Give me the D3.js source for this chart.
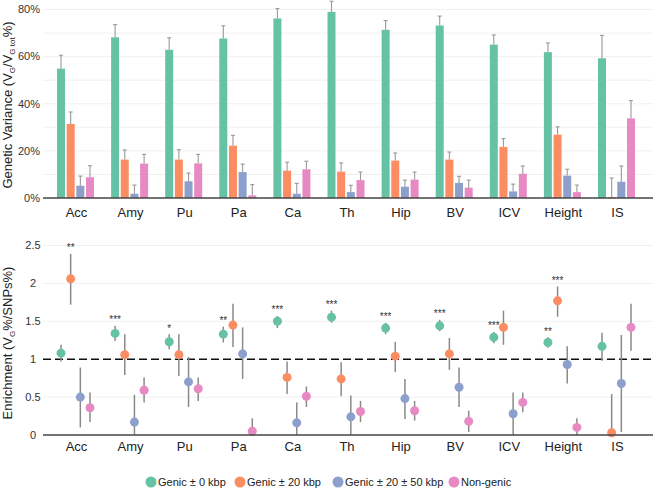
<!DOCTYPE html>
<meta charset="utf-8">
<script src="https://d3js.org/d3.v7.min.js"></script>
<style>
  body { margin: 0; background: #fff; }
  text { font-family: Helvetica, Arial, "Liberation Sans", sans-serif; }
</style>
<div id="my_dataviz"></div>
<script>

// categories and series
var categories = ["Acc", "Amy", "Pu", "Pa", "Ca", "Th", "Hip", "BV", "ICV", "Height", "IS"];
var series = ["Genic \u00b1 0 kbp", "Genic \u00b1 20 kbp", "Genic \u00b1 20 \u00b1 50 kbp", "Non-genic"];
var colours = ["#66c2a5", "#fc8d62", "#8da0cb", "#e78ac3"];

// genetic variance (%), value and standard error
var var0   = [54.9, 68.2, 62.9, 67.7, 76.2, 79.0, 71.4, 73.2, 65.1, 61.9, 59.3];
var var0Se = [5.7, 5.4, 5.1, 5.4, 4.2, 4.5, 3.9, 4.0, 4.1, 3.9, 9.7];
var var20   = [31.4, 16.3, 16.3, 22.2, 11.6, 11.2, 15.9, 16.3, 21.7, 26.9, 0.4];
var var20Se = [5.1, 4.1, 4.2, 4.4, 3.6, 3.7, 3.2, 3.2, 3.5, 3.3, 8.1];
var var50   = [5.2, 1.8, 7.1, 11.0, 1.8, 2.5, 4.8, 6.4, 2.8, 9.5, 6.9];
var var50Se = [4.1, 3.7, 3.5, 3.4, 4.4, 2.9, 2.8, 2.8, 3.1, 2.7, 6.7];
var varNg   = [8.8, 14.6, 14.7, 1.1, 12.2, 7.6, 7.8, 4.4, 10.3, 2.5, 33.8];
var varNgSe = [4.9, 3.9, 3.8, 4.6, 3.4, 3.4, 3.2, 3.2, 3.3, 3.0, 7.5];

// enrichment, value with lower / upper interval
var enr0   = [1.08, 1.34, 1.23, 1.33, 1.50, 1.555, 1.41, 1.44, 1.29, 1.22, 1.17];
var enr0Lo = [0.97, 1.24, 1.13, 1.22, 1.41, 1.48, 1.33, 1.37, 1.21, 1.15, 0.98];
var enr0Hi = [1.19, 1.44, 1.33, 1.43, 1.57, 1.64, 1.48, 1.52, 1.36, 1.29, 1.35];
var enr20   = [2.06, 1.06, 1.06, 1.45, 0.76, 0.74, 1.04, 1.07, 1.42, 1.77, 0.03];
var enr20Lo = [1.72, 0.79, 0.78, 1.16, 0.54, 0.51, 0.83, 0.86, 1.19, 1.56, 0];
var enr20Hi = [2.39, 1.33, 1.33, 1.73, 0.97, 0.96, 1.23, 1.28, 1.64, 1.96, 0.54];
var enr50   = [0.50, 0.17, 0.70, 1.07, 0.16, 0.24, 0.48, 0.63, 0.28, 0.93, 0.68];
var enr50Lo = [0.10, 0, 0.37, 0.74, 0, 0, 0.21, 0.37, 0, 0.68, 0.04];
var enr50Hi = [0.89, 0.53, 1.03, 1.42, 0.43, 0.52, 0.74, 0.89, 0.56, 1.17, 1.32];
var enrNg   = [0.36, 0.59, 0.61, 0.05, 0.51, 0.31, 0.32, 0.18, 0.43, 0.10, 1.42];
var enrNgLo = [0.17, 0.43, 0.45, 0, 0.37, 0.17, 0.19, 0.04, 0.30, 0, 1.11];
var enrNgHi = [0.56, 0.76, 0.76, 0.22, 0.64, 0.45, 0.45, 0.32, 0.56, 0.22, 1.73];

// significance stars
var sig0  = ["", "***", "*", "**", "***", "***", "***", "***", "***", "**", ""];
var sig20 = ["**", "", "", "", "", "", "", "", "", "***", ""];
var sig50 = ["", "", "", "", "", "", "", "", "", "", ""];
var sigNg = ["", "", "", "", "", "", "", "", "", "", ""];

var varVals = [var0, var20, var50, varNg];
var varSes = [var0Se, var20Se, var50Se, varNgSe];
var enrVals = [enr0, enr20, enr50, enrNg];
var enrLos = [enr0Lo, enr20Lo, enr50Lo, enrNgLo];
var enrHis = [enr0Hi, enr20Hi, enr50Hi, enrNgHi];
var sigs = [sig0, sig20, sig50, sigNg];

var barData = [], pointData = [];
series.forEach(function(s, si) {
  categories.forEach(function(c, ci) {
    barData.push({cat: c, s: s, v: varVals[si][ci], hi: varVals[si][ci] + varSes[si][ci]});
    pointData.push({cat: c, s: s, v: enrVals[si][ci], lo: enrLos[si][ci], hi: enrHis[si][ci], sig: sigs[si][ci]});
  });
});

var width = 653, height = 490,
    plotLeft = 43, plotRight = 653;

var svg = d3.select("#my_dataviz").append("svg")
    .attr("width", width)
    .attr("height", height);

var xScale = d3.scalePoint().domain(categories).range([75.5, 616.5]);
var xInner = d3.scalePoint().domain(series).range([-14.5, 14.5]);
var colour = d3.scaleOrdinal().domain(series).range(colours);
var barW = 8;

// ---------- top panel ----------
var yTop = d3.scaleLinear().domain([0, 80]).range([198, 9.5]);

svg.append("g").selectAll("line")
  .data(d3.range(10, 81, 10))
  .enter().append("line")
    .attr("x1", plotLeft).attr("x2", plotRight)
    .attr("y1", function(d) { return yTop(d); })
    .attr("y2", function(d) { return yTop(d); })
    .attr("stroke", "#ececec")
    .attr("stroke-width", 0.8);

svg.append("g").selectAll("text")
  .data([0, 20, 40, 60, 80])
  .enter().append("text")
    .attr("x", 40)
    .attr("y", function(d) { return yTop(d); })
    .attr("dy", "0.35em")
    .attr("text-anchor", "end")
    .style("font-size", "11px")
    .attr("fill", "#333")
    .text(function(d) { return d + "%"; });

svg.selectAll("varbar")
  .data(barData)
  .enter().append("rect")
    .attr("x", function(d) { return xScale(d.cat) + xInner(d.s) - barW / 2; })
    .attr("y", function(d) { return yTop(d.v); })
    .attr("width", barW)
    .attr("height", function(d) { return yTop(0) - yTop(d.v); })
    .attr("fill", function(d) { return colour(d.s); });

var errG = svg.append("g").attr("stroke", "#9a9a9a").attr("stroke-width", 1.1);
errG.selectAll("line.v")
  .data(barData)
  .enter().append("line")
    .attr("x1", function(d) { return xScale(d.cat) + xInner(d.s); })
    .attr("x2", function(d) { return xScale(d.cat) + xInner(d.s); })
    .attr("y1", function(d) { return yTop(d.v); })
    .attr("y2", function(d) { return yTop(d.hi); });
errG.selectAll("line.c")
  .data(barData)
  .enter().append("line")
    .attr("x1", function(d) { return xScale(d.cat) + xInner(d.s) - 2; })
    .attr("x2", function(d) { return xScale(d.cat) + xInner(d.s) + 2; })
    .attr("y1", function(d) { return yTop(d.hi); })
    .attr("y2", function(d) { return yTop(d.hi); });

svg.append("line")
  .attr("x1", plotLeft).attr("x2", plotRight)
  .attr("y1", yTop(0)).attr("y2", yTop(0))
  .attr("stroke", "#444").attr("stroke-width", 1.4);

svg.append("g").selectAll("text")
  .data(categories)
  .enter().append("text")
    .attr("x", function(d) { return xScale(d) + 1; })
    .attr("y", 217)
    .attr("text-anchor", "middle")
    .style("font-size", "13px")
    .attr("fill", "#222")
    .text(function(d) { return d; });

var t1 = svg.append("text")
  .attr("transform", "translate(12," + 105 + ")rotate(-90)")
  .attr("text-anchor", "middle")
  .style("font-size", "13px")
  .attr("fill", "#222");
t1.append("tspan").text("Genetic Variance (V");
t1.append("tspan").attr("dy", 3).style("font-size", "8px").text("G");
t1.append("tspan").attr("dy", -3).text("/V");
t1.append("tspan").attr("dy", 3).style("font-size", "8px").text("G tot");
t1.append("tspan").attr("dy", -3).text("%)");

// ---------- bottom panel ----------
var yBot = d3.scaleLinear().domain([0, 2.5]).range([435, 245.5]);

svg.append("g").selectAll("line")
  .data([0.5, 1, 1.5, 2, 2.5])
  .enter().append("line")
    .attr("x1", plotLeft).attr("x2", plotRight)
    .attr("y1", function(d) { return yBot(d); })
    .attr("y2", function(d) { return yBot(d); })
    .attr("stroke", "#ececec")
    .attr("stroke-width", 0.8);

svg.append("g").selectAll("text")
  .data([0, 0.5, 1, 1.5, 2, 2.5])
  .enter().append("text")
    .attr("x", 33)
    .attr("y", function(d) { return yBot(d); })
    .attr("dy", "0.35em")
    .attr("text-anchor", "middle")
    .style("font-size", "11px")
    .attr("fill", "#333")
    .text(function(d) { return d; });

svg.append("line")
  .attr("x1", plotLeft).attr("x2", plotRight)
  .attr("y1", yBot(1)).attr("y2", yBot(1))
  .attr("stroke", "#111").attr("stroke-width", 1.4)
  .attr("stroke-dasharray", "8,4");

svg.append("g").selectAll("line")
  .data(pointData)
  .enter().append("line")
    .attr("x1", function(d) { return xScale(d.cat) + xInner(d.s); })
    .attr("x2", function(d) { return xScale(d.cat) + xInner(d.s); })
    .attr("y1", function(d) { return yBot(d.lo); })
    .attr("y2", function(d) { return yBot(d.hi); })
    .attr("stroke", "#8a8a8a")
    .attr("stroke-width", 1.5);

svg.append("g").selectAll("circle")
  .data(pointData)
  .enter().append("circle")
    .attr("cx", function(d) { return xScale(d.cat) + xInner(d.s); })
    .attr("cy", function(d) { return yBot(d.v); })
    .attr("r", 4.5)
    .attr("fill", function(d) { return colour(d.s); });

svg.append("g").selectAll("text")
  .data(pointData.filter(function(d) { return d.sig; }))
  .enter().append("text")
    .attr("x", function(d) { return xScale(d.cat) + xInner(d.s); })
    .attr("y", function(d) { return yBot(d.hi) - 2.5; })
    .attr("text-anchor", "middle")
    .style("font-size", "10px")
    .attr("fill", "#333")
    .text(function(d) { return d.sig; });

svg.append("line")
  .attr("x1", plotLeft).attr("x2", plotRight)
  .attr("y1", yBot(0)).attr("y2", yBot(0))
  .attr("stroke", "#444").attr("stroke-width", 1.4);

svg.append("g").selectAll("text")
  .data(categories)
  .enter().append("text")
    .attr("x", function(d) { return xScale(d) + 1; })
    .attr("y", 451)
    .attr("text-anchor", "middle")
    .style("font-size", "13px")
    .attr("fill", "#222")
    .text(function(d) { return d; });

var t2 = svg.append("text")
  .attr("transform", "translate(12," + 343 + ")rotate(-90)")
  .attr("text-anchor", "middle")
  .style("font-size", "13px")
  .attr("fill", "#222");
t2.append("tspan").text("Enrichment (V");
t2.append("tspan").attr("dy", 3).style("font-size", "8px").text("G");
t2.append("tspan").attr("dy", -3).text("%/SNPs%)");

// ---------- legend ----------
var legX = [151, 240, 338, 454];
var legend = svg.append("g").selectAll("g")
  .data(series)
  .enter().append("g")
    .attr("transform", function(d, i) { return "translate(" + legX[i] + ",482)"; });
legend.append("circle")
  .attr("r", 5.5)
  .attr("fill", function(d) { return colour(d); });
legend.append("text")
  .attr("x", 7)
  .attr("dy", "0.35em")
  .style("font-size", "11px")
  .attr("fill", "#222")
  .text(function(d) { return d; });

</script>
